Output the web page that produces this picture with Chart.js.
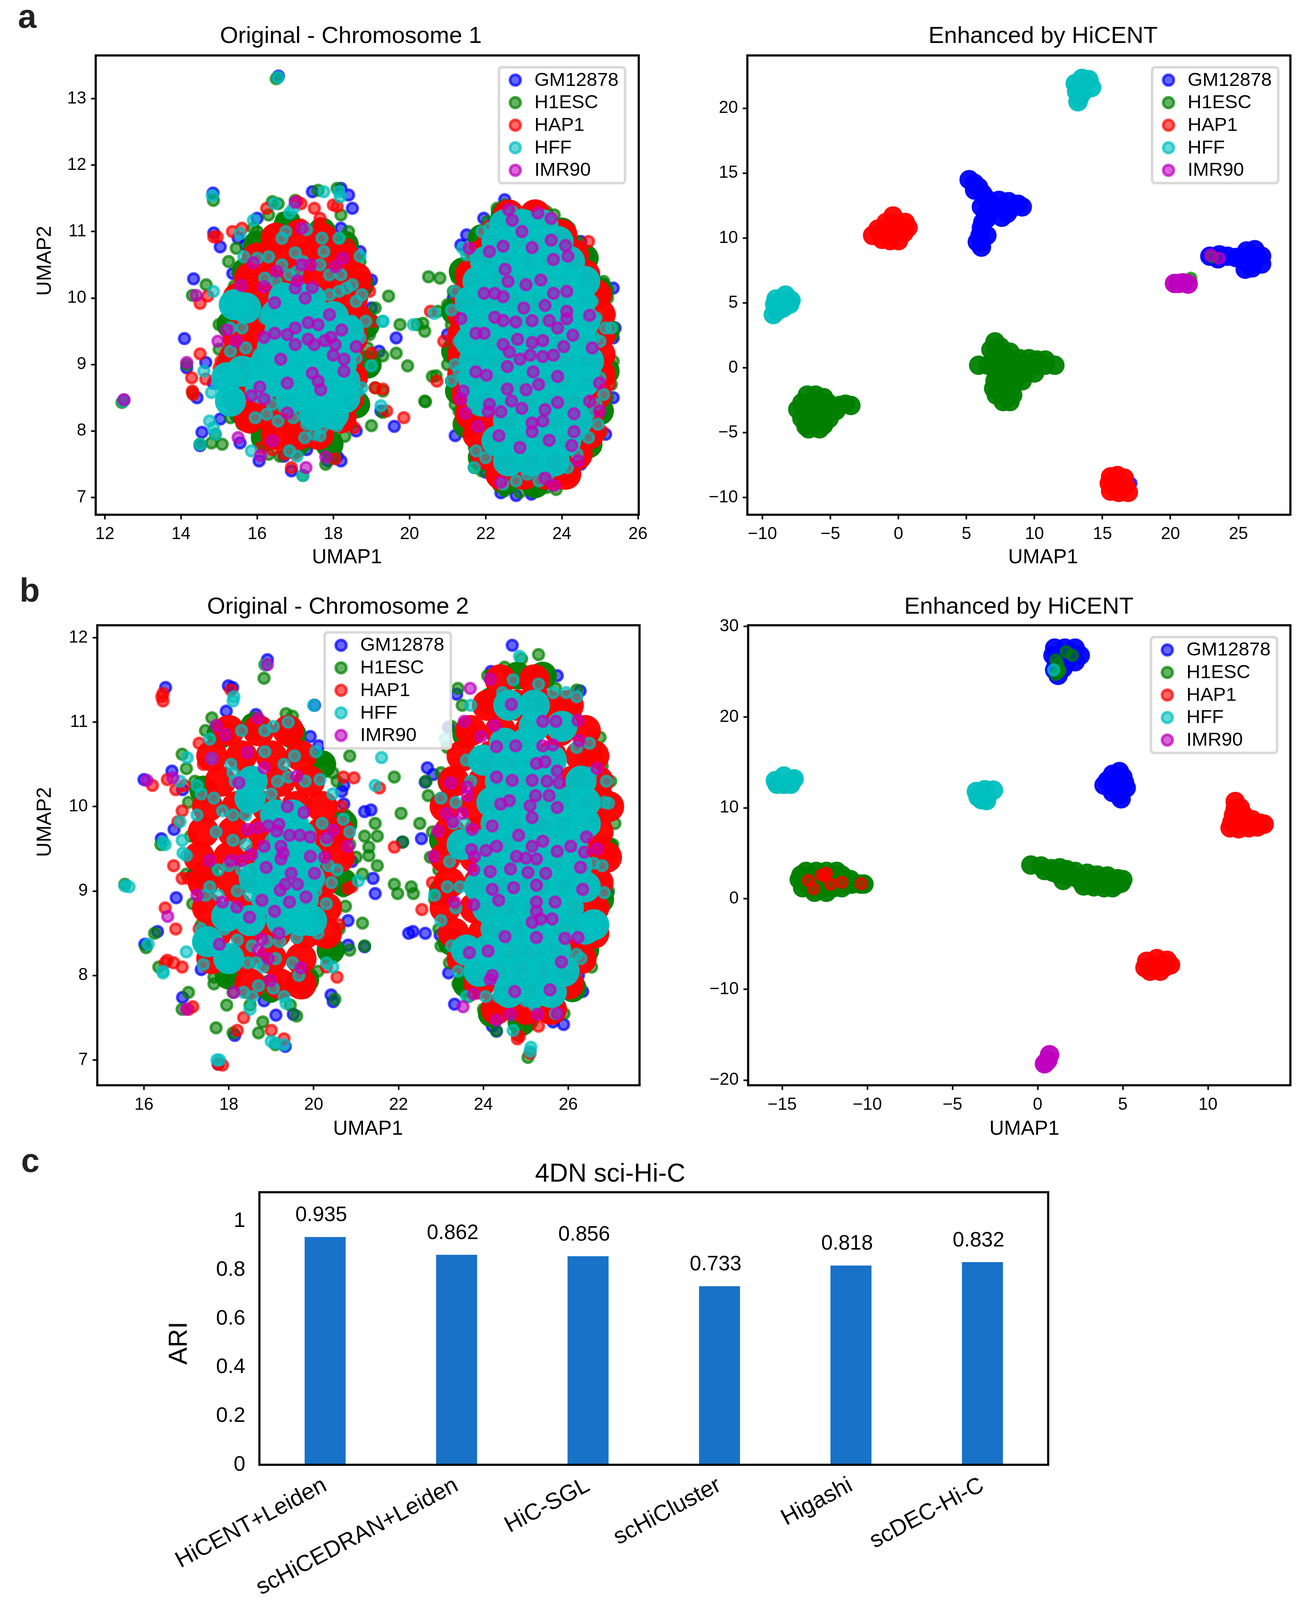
<!DOCTYPE html>
<html><head><meta charset="utf-8">
<script src="https://cdn.jsdelivr.net/npm/chart.js@4"></script>
<style>html,body{margin:0;padding:0;background:#fff;overflow:hidden}body{position:relative;width:3366px}canvas{position:absolute}
.tag{position:absolute;font:bold 85px "Liberation Sans",Arial,sans-serif;color:#222;line-height:1}</style></head><body>
<script>
const seriesNames=["GM12878","H1ESC","HAP1","HFF","IMR90"];
const seriesRGB=["0,0,255","0,128,0","255,0,0","0,191,191","191,0,191"];
const axisLabelX="UMAP1",axisLabelY="UMAP2";

// ---- Panel a, Original - Chromosome 1 ----
const a1Title="Original - Chromosome 1";
const a1TicksX=[12,14,16,18,20,22,24,26],a1TicksY=[7,8,9,10,11,12,13];
const a1GM=[16.56,13.34,12.5,8.46,14.84,11.58,14.86,10.98,15.03,10.77,15.36,10.37,14.33,10.29,14.09,9.39,14.15,8.95,14.65,9.03,14.42,8.5,15.03,8.18,14.55,7.98,14.5,7.78,14.85,8.72,15.55,7.82,16.05,7.55,16.7,7.62,16.9,7.4,17.3,7.72,17.85,7.55,18.2,7.55,18.1,7.62,16,11.2,15.5,10.9,15.7,10.8,16.2,10.93,18.2,11.65,18.4,11.55,18.5,11.35,17.45,11.6,18.2,11.05,18.7,10.7,18.3,10.48,18.9,10.25,19,10.27,19,9.85,19.2,9.2,19.6,8.07,19.25,8.3,19.65,9.4,18.6,8,21.35,10.8,21.15,10,21.5,10.95,22.5,11.48,21.95,11.2,24.2,10.95,24.5,10.85,24.7,10.65,25.1,10.2,25.35,10.15,25.4,9.55,25.35,9.4,25.35,8.5,25.15,7.95,24.5,7.5,24.3,7.4,22,7.38,22.4,7.07,22.8,7.03,23.2,7.05,21.2,7.93,21,9.45];
const a1H1=[14.85,11.47,12.45,8.43,16.5,13.3,14.66,10.2,14.3,10.04,14.15,9,14.3,8.58,14.5,7.8,14.8,7.82,15.08,7.8,14.9,7.95,15,9.6,15,9.23,15.3,9.2,15.4,10.18,15.25,10.55,15.45,10.75,15.9,11.05,16,11,16.3,11.25,16.4,11.45,16.55,11.42,16.65,11.2,16.95,11.2,17,11.47,17.6,11.62,18.1,11.65,18.2,11.25,18.4,11,18.6,10.6,18.7,10.55,18.55,10.3,18.7,10.2,18.8,10.1,19.1,9.85,18.9,9.75,18.95,9.45,19.3,9.13,19.45,10.03,19.75,9.6,20.2,9.6,20.35,9.62,20.4,9.5,19.65,9.17,19.95,8.98,20.5,10.32,20.8,10.3,19.1,8.65,19.3,8.6,19,8.9,18.9,9.25,18.6,8.6,18.65,8.45,18.3,7.92,19,8.08,19.3,8.28,18.45,8.1,15.3,8.2,15.6,8.1,15.85,8.05,16.3,7.65,16.6,7.62,17.2,7.33,17.3,7.8,17.8,7.5,18.05,7.6,16.8,8,17.4,8.15,17.9,8.1,22.3,11.35,22.5,11.4,23.3,11.35,23.6,11.3,23.8,11.25,22.05,11.15,24.1,11,24.2,11.05,21.8,10.9,24.4,10.85,21.55,10.7,24.6,10.7,21.4,10.4,21.25,10.3,24.7,10.4,24.9,10.25,21.15,10.1,25.1,10.25,21,9.9,25.2,10,21.1,9.6,25.25,9.75,21.1,9.3,25.35,9.55,21,9,25.35,9.05,21.1,8.75,25.3,8.7,20.6,8.82,20.7,8.83,20.4,8.45,20.42,8.44,21.2,8.4,25.2,8.5,21.3,8.3,25.1,8.2,21.5,8.05,25,7.95,21.7,7.75,24.8,7.8,21.7,7.45,24.5,7.55,21.9,7.4,24.2,7.4,22.2,7.3,24.1,7.35,22.5,7.1,22.9,7.08,23.3,7.1,23.6,7.15,23.85,7.12,20.75,9.8];
const a1H1Dense=[15.3,9.6,15.3,9,15.6,8.3,16.2,7.9,17,7.8,17.9,7.8,18.6,8.4,18.9,9,18.85,9.6,18.7,10.2,18.3,10.8,17.7,11,16.8,11.1,16,10.8,15.7,10.4,22.5,11.25,23.3,11.25,24,11,24.6,10.6,25,10.1,25.15,9.5,25.15,8.9,25,8.3,24.7,7.8,24.1,7.4,23.3,7.2,22.5,7.25,21.9,7.6,21.5,8.1,21.3,8.6,21.2,9.2,21.2,9.8,21.4,10.4,21.9,10.9];
const a1HAP=[14.86,10.92,14.95,10.92,14.3,8.6,14.32,8.55,14.5,9.16,14.28,8.8,14.65,8.78,14.5,9.92,14.7,10.03,15,8.95,15.05,9.05,15.35,11,15.6,11.05,16.25,11.35,16.45,11,17.15,11.1,17.65,11.2,17.65,11.12,17.05,11.45,17.15,11.42,17.5,11.35,18.1,11.38,18,11.4,18.4,10.8,18.95,10.1,19.05,9.65,19,9.17,19.1,8.65,19.3,8.63,18.55,8.05,16.1,7.75,16.4,7.72,16.7,7.65,17,7.65,16.9,7.45,18.05,7.58,19.4,8.3,19.85,8.2,24.7,10.85,25.05,10.1,20.9,9.35,25.25,8.7,25.05,8,23.4,7.3,23.8,7.2,22.35,7.2,20.55,9.8,20.72,8.75];
const a1HAPDense=[16.5,10.9,17.1,10.95,17.7,10.9,16,10.6,16.6,10.6,17.2,10.6,17.8,10.6,18.3,10.6,15.8,10.3,16.4,10.3,17,10.3,17.6,10.3,18.2,10.3,18.6,10.3,15.5,10,16.1,10,16.7,10,17.3,10,17.9,10,18.5,10,15.7,9.7,16.3,9.7,16.9,9.7,17.5,9.7,18.1,9.7,18.6,9.7,15.5,9.4,16.1,9.4,16.7,9.4,17.3,9.4,17.9,9.4,18.5,9.4,15.4,9.1,16,9.1,16.6,9.1,17.2,9.1,17.8,9.1,18.4,9.1,15.6,8.8,16.2,8.8,16.8,8.8,17.4,8.8,18,8.8,18.5,8.8,15.5,8.5,16.1,8.5,16.7,8.5,17.3,8.5,17.9,8.5,18.4,8.5,15.8,8.2,16.4,8.2,17,8.2,17.6,8.2,18.2,8.2,16.5,7.95,17.1,7.95,17.6,7.95,22.6,11.25,23.3,11.25,22.2,10.95,22.8,10.95,23.4,10.95,24,10.95,21.9,10.65,22.5,10.65,23.1,10.65,23.7,10.65,24.3,10.65,21.6,10.35,22.2,10.35,22.8,10.35,23.4,10.35,24,10.35,24.6,10.35,21.5,10.05,22.1,10.05,22.7,10.05,23.3,10.05,23.9,10.05,24.5,10.05,24.9,10.05,21.4,9.75,22,9.75,22.6,9.75,23.2,9.75,23.8,9.75,24.4,9.75,25,9.75,21.4,9.45,22,9.45,22.6,9.45,23.2,9.45,23.8,9.45,24.4,9.45,25,9.45,21.4,9.15,22,9.15,22.6,9.15,23.2,9.15,23.8,9.15,24.4,9.15,25,9.15,21.4,8.85,22,8.85,22.6,8.85,23.2,8.85,23.8,8.85,24.4,8.85,25,8.85,21.5,8.55,22.1,8.55,22.7,8.55,23.3,8.55,23.9,8.55,24.5,8.55,24.9,8.55,21.6,8.25,22.2,8.25,22.8,8.25,23.4,8.25,24,8.25,24.7,8.25,21.8,7.95,22.4,7.95,23,7.95,23.6,7.95,24.2,7.95,24.7,7.95,22,7.65,22.6,7.65,23.2,7.65,23.8,7.65,24.4,7.65,22.4,7.35,23,7.35,23.6,7.35,24.1,7.35];
const a1HFF=[16.55,13.32,12.48,8.45,14.82,11.54,17.75,11.6,18.15,11.6,18.18,11.52,16.85,11.28,16.95,11.35,16.45,11.42,15.55,10.97,15.9,11.17,16.65,10.9,16.75,11,17.3,11.03,17.7,10.9,18.15,10.9,15.65,10.62,16,10.6,16.3,10.62,16.65,10.5,17,10.68,17.2,10.55,17.75,10.7,18.7,10.63,16.2,10.3,16.5,10.25,16.85,10.35,17.05,10.4,17.65,10.5,17.9,10.35,18.2,10.35,18.35,10.15,18.5,10.2,18.75,10.05,14.85,10.1,15.2,9.93,15.4,9.85,15.65,9.85,15.9,9.83,16.5,10,16.7,10.05,17,9.9,17.25,9.95,17.5,9.85,17.9,10.05,18.15,10.1,18.6,9.95,16.2,9.7,16.6,9.75,16.85,9.7,17.1,9.68,17.35,9.7,17.6,9.65,17.85,9.6,18.15,9.7,18.5,9.65,18.85,9.65,19.3,9.65,16.4,9.55,16.75,9.58,17.05,9.52,15.3,9.55,15.6,9.55,16.9,9.35,16.6,9.35,16.3,9.4,17.15,9.4,17.45,9.45,18,9.5,18.35,9.4,18.7,9.4,15.7,9.25,16.05,9.15,16.4,9.2,16.75,9.2,17.05,9.15,17.3,9.2,17.6,9.2,17.95,9.2,18.3,9.2,18.6,9.1,15.3,9.2,15.9,8.98,16.3,9,16.65,9.05,16.95,9,17.2,9.05,17.5,9,17.8,9,18.1,9,18.45,8.98,19,8.98,14.6,8.9,15.2,8.82,15.5,8.8,15.95,8.8,16.3,8.75,16.6,8.82,16.9,8.85,17.2,8.85,17.5,8.9,17.8,8.85,18.1,8.8,18.4,8.7,18.65,8.6,18.75,8.65,14.8,8.58,15.4,8.45,15.85,8.6,16.25,8.55,16.55,8.6,16.95,8.65,17.25,8.6,17.55,8.6,17.85,8.6,18.15,8.55,18.45,8.5,16.4,8.4,16.7,8.35,17,8.4,17.4,8.3,17.75,8.35,18.05,8.3,19.25,8.38,15.95,8.2,16.25,8.25,16.55,8.15,16.95,8.2,17.3,8.1,17.7,8.05,18.1,8.08,17.5,7.95,17.25,7.9,17.65,7.93,14.75,8.15,14.85,8.05,14.9,7.95,14.5,7.8,15.85,7.7,16.85,7.7,17.05,7.62,17.2,7.33,19.3,9.65,20.1,9.6,20.65,9.77,21.1,9.82,21.2,10.1,21.45,10.05,21.7,10.1,21.3,8.9,21.3,9.35,21.5,9.55,21.2,9,21.45,8.95,21.1,8.75,21.5,8.6,21.4,8.8,21.65,8.95,21.7,9.2,21.75,9.7,21.9,9.95,22.05,10.4,21.5,10.65,21.4,10.75,21.8,10.5,21.85,10.25,21.9,11,22.1,11.05,22.1,10.8,22.3,10.6,22.7,11.3,22.95,11.25,23.2,11.05,21.75,7.7,21.7,7.45,22,7.6,22.45,7.2,22.8,7.25,23.1,7.35,23.4,7.25,23.65,7.35,24.15,7.45,24.4,7.65,24.45,7.95,24.7,8.25,24.75,8.65,24.85,8.9,24.85,9.15,24.85,9.4,24.9,9.7,24.8,9.95,25,9.35,25.15,9.55,25.3,9.55,25,8.8,25.1,8.55,24.9,8.4,24.95,8.1,24.7,7.9];
const a1HFFDense=[16.7,10,17.1,10,17.4,9.98,16.5,9.75,17,9.75,17.5,9.75,18,9.72,16.6,9.5,17.1,9.5,17.6,9.5,18.1,9.5,18.4,9.5,16.4,9.25,16.9,9.25,17.4,9.25,17.9,9.25,18.3,9.25,16.2,9,16.7,9,17.2,9,17.7,9,18.2,9,16.4,8.75,16.9,8.75,17.4,8.75,17.9,8.75,18.3,8.75,16.9,8.5,17.4,8.5,17.9,8.5,18.3,8.5,17.5,8.25,18,8.25,15.4,9.9,15.7,9.85,15.2,8.8,15.6,8.9,16.1,8.65,15.3,8.45,22.5,11.1,23,11.1,23.5,11.1,22.3,10.85,22.8,10.85,23.4,10.85,23.9,10.85,22,10.55,22.6,10.55,23.1,10.55,23.7,10.55,24.2,10.55,21.8,10.25,22.4,10.25,23,10.25,23.6,10.25,24.1,10.25,24.6,10.25,21.6,9.95,22.2,9.95,22.8,9.95,23.4,9.95,24,9.95,24.5,9.95,21.7,9.65,22.3,9.65,22.9,9.65,23.5,9.65,24.1,9.65,24.6,9.65,21.6,9.35,22.2,9.35,22.8,9.35,23.4,9.35,24,9.35,24.5,9.35,21.7,9.05,22.3,9.05,22.9,9.05,23.5,9.05,24.1,9.05,24.7,9.05,21.7,8.75,22.3,8.75,22.9,8.75,23.5,8.75,24.1,8.75,24.6,8.75,21.9,8.45,22.5,8.45,23.1,8.45,23.7,8.45,24.3,8.45,22.6,8.15,23.2,8.15,23.8,8.15,24.4,8.15,22.3,7.85,22.9,7.85,23.5,7.85,24.1,7.85,22.6,7.55,23.2,7.55,23.8,7.55];
const a1IMR=[14.4,10.04,14.97,9.35,14.15,9.03,12.5,8.47,15.5,7.9,16.09,7.63,16.4,7.85,17.28,7.45,17.8,7.61,15.58,10.19,15.9,10.53,16.51,10.4,17.17,11.05,17,11.44,17.17,10.5,17.4,10.5,18.05,10.47,18.25,10.6,16.18,10.17,17.06,10.26,17,10.15,17.45,10.16,17.26,10,16.46,9.93,17.9,9.75,16.18,9.41,16.46,9.47,16.79,9.45,17,9.55,17.34,9.63,17.6,9.6,17.34,9.38,17.5,9.3,17.78,9.36,17.94,9.41,18.22,9.52,18.05,9.3,18.6,9.27,17,9.3,16.62,9.08,18,9.14,18.28,9.08,18.28,8.9,17.45,8.87,17.6,8.75,17.67,8.62,16.79,8.72,15.85,8.53,16.07,8.66,16.18,8.48,16.79,8.27,15.45,9.35,15.2,9.52,22.6,11.33,22.7,11.17,22.95,11,23.37,11.28,23.72,11.2,21.57,10.75,22.1,10.7,22.46,10.78,23.22,10.76,23.72,10.87,24.1,10.79,24.16,10.63,23.78,10.58,22.51,10.43,22.59,10.25,23.06,10.2,23.45,10.27,21.96,10.07,22.24,10.07,22.46,10.02,23.78,10.07,24.13,10.1,23.56,9.89,23,9.85,24.13,9.8,21.35,9.69,22.24,9.71,22.46,9.66,22.79,9.64,23.22,9.66,23.67,9.66,24.13,9.69,24.73,9.74,23.89,9.55,21.74,9.47,21.96,9.47,24.29,9.44,22.46,9.3,22.84,9.38,23.22,9.33,23.5,9.36,24.05,9.27,24.8,9.25,22.62,9.19,22.9,9.08,23.17,9.14,23.5,9.12,23.78,9.14,22.57,8.97,21.74,8.89,22.02,8.84,23.25,8.89,23.89,8.82,23.39,8.7,22.57,8.63,23.06,8.62,24.99,8.72,21.41,8.6,21.35,8.48,22.68,8.45,22.95,8.34,23.56,8.32,23.89,8.43,24.73,8.45,22.1,8.4,22.07,8.29,22.4,8.29,21.47,8.27,24.32,8.26,24.99,8.3,21.8,8.07,23.22,8.12,23.5,8.15,23.22,7.99,22.35,7.93,24.32,7.99,23.67,7.86,24.26,7.78,22.9,7.75,24.43,7.55,22.4,7.23,23.56,7.29,23.8,7.18];

// ---- Panel a, Enhanced by HiCENT ----
const a2Title="Enhanced by HiCENT";
const a2TicksX=[-10,-5,0,5,10,15,20,25],a2TicksY=[-10,-5,0,5,10,15,20];
const a2GM=[5.2,14.5,5.6,14.2,5.9,13.9,5.6,13.7,6.2,13.4,6.5,13,6.9,12.6,6.1,12.4,6.7,12.2,7.4,12.9,7.5,12.3,8.1,12.8,8.2,12.2,8.8,12.6,9.1,12.4,7.6,11.6,8,11.9,6.4,11.8,6.2,11.2,6.5,11.5,6.1,10.8,6,10.2,6.5,10.2,6.1,9.7,5.8,9.7,6.1,9.3,22.9,8.6,23.5,8.4,23.6,8.7,24.2,8.6,24.8,8.5,25.3,8.5,25.6,9,25.6,8.1,26.2,9.1,26.4,8.5,26.7,8,26,7.7,25.5,7.6,26.7,8.6,25.9,8.4];
const a2GMStray=[17.1,-8.9];
const a2H1=[7.1,2,6.8,1.4,7.5,1.6,7,.8,7.7,1,8.2,1.2,8.3,.6,7.5,.4,6.9,.2,5.9,.2,6.6,.2,7.3,.2,8,.2,8.7,.2,9.4,.2,10.1,.2,10.8,.2,11.5,.2,8.9,.7,9.6,.7,10.2,.6,10.8,.6,7.2,-.4,7.9,-.4,8.6,-.4,9.3,-.4,10,-.4,7.1,-1,7.8,-1,8.5,-1,9.1,-1,7,-1.6,7.6,-1.6,8.3,-1.6,7.2,-2.1,7.9,-2.1,8.4,-2.1,7.7,-2.6,8.2,-2.6,-6.7,-2.1,-6.1,-2.1,-5.5,-2.3,-7.1,-2.7,-6.4,-2.7,-5.7,-2.7,-5.2,-2.7,-7.4,-3.2,-6.7,-3.3,-6,-3.3,-5.3,-3.3,-4.7,-3.3,-7.1,-3.9,-6.4,-3.9,-5.7,-3.9,-5.1,-3.9,-6.8,-4.5,-6.2,-4.5,-5.5,-4.4,-6.6,-4.7,-5.8,-4.7,-4.3,-2.9,-3.9,-2.8,-3.5,-2.9,-4.6,-3.3];
const a2H1Stray=[21.5,6.9,23.1,8.55];
const a2HAP=[-.4,11.7,-.9,11.2,-.2,11.1,.5,11.2,.7,10.8,-1.5,10.7,-.9,10.5,-.2,10.4,.4,10.4,-1.9,10.2,-1.2,9.9,-.6,9.8,0,9.8,15.5,-8.9,16.1,-8.3,16.6,-8.5,15.6,-8.4,16.1,-9,16.7,-9.1,15.6,-9.5,16.2,-9.6,16.9,-9.6];
const a2HFF=[13,21.9,13.5,22.3,14,22.2,13.5,21.6,14.2,21.6,13.1,21.3,13.6,21.3,13.3,20.8,13.2,20.5,-8.3,5.6,-7.9,5.2,-8.5,5.1,-9,5.3,-9.1,4.9,-8.5,4.6,-8.9,4.4,-9.2,4.1,-8,4.9];
const a2IMR=[20.3,6.5,20.9,6.55,21.3,6.45,20.6,6.5];
const a2IMRStray=[22.96,8.68,23.58,8.45];

// ---- Panel b, Original - Chromosome 2 ----
const b1Title="Original - Chromosome 2";
const b1TicksX=[16,18,20,22,24,26],b1TicksY=[7,8,9,10,11,12];
const b1GM=[16.51,11.41,18.91,11.74,17.99,11.43,18.09,11.41,17.94,11.13,18.64,11.09,20.02,11.2,19.52,10.85,19.92,10.83,20.12,10.72,20.71,10.25,20.66,10.18,20.71,10.03,16,10.32,16.66,10.42,16.91,10.2,16.71,9.73,16.41,9.62,17.15,9.19,16.76,8.92,21.4,9.15,21.45,8.97,20.81,8.65,21.2,9.94,21.35,9.96,21.2,8.34,20.81,8.36,16.02,8.37,16.32,8.52,16.91,7.74,17.99,7.96,17.35,8.07,18.83,7.7,19.11,7.53,18.14,7.29,19.33,7.16,17.75,6.95,20.41,7.77,20.46,7.69,19.52,7.54,22.09,9.58,22.34,8.52,22.24,8.5,22.63,8.5,22.68,10.46,22.63,10.29,22.82,10.38,22.54,9.62,22.98,8.48,23.18,8.03,23.32,7.66,24.21,7.4,24.31,7.34,24.68,11.91,24.18,11.6,25.74,11.55,26.28,11.37,23.37,11.33,23.18,10.94,25.89,7.42,25.64,7.45,26.34,7.81,26.24,8,26.93,8.97,26.68,10.33,22.98,9.08,20.5,9.6,20.9,9.35,20.3,9.05];
const b1H1=[18.83,11.52,18.85,11.68,15.55,9.08,16.9,10.62,17,10.45,17.05,10.05,16.4,9.55,17,9.2,17.15,8.85,16.25,8.5,16.05,8.33,16.35,8.1,16.9,7.6,17.05,7.8,17.7,7.38,17.65,7.98,17.95,7.65,18.1,7.32,18.7,7.32,18.8,7.45,19.1,7.18,19.6,7.52,19.8,7.8,20.5,7.72,20.6,8.3,21.2,8.35,20.85,8.3,21.15,8.62,20.85,10.6,21.9,10.35,22.06,9.92,21.2,9.65,21.45,9.8,21.5,9.65,21.3,9.52,21.3,9.42,21.5,9.3,21.9,9.08,21.98,8.97,22.3,9.05,22.35,8.97,22.7,10.13,22.65,10.3,22.5,9.8,22.1,9.58,20.7,9,20.75,8.82,21.15,9.2,21,9.4,20.75,9.9,20.55,10.3,20.3,10.55,17.6,11.05,17.45,10.9,18.6,11.05,19.5,11.07,19.35,11.1,20.05,10.55,20.45,10.4,19.6,10.7,19.8,10.6,17.2,10.3,17.1,9.65,17.3,9.1,17.35,8.6,17.55,8.25,17.65,7.9,18.1,7.8,18.5,7.65,19,7.75,19.45,7.65,19.6,7.95,20.1,8.05,20.35,8.2,20.6,8.55,20.75,9.65,20.85,9.55,23.4,11.4,24.1,11.55,24.5,11.65,24.9,11.75,25.3,11.8,25.7,11.4,26.2,11.38,26.4,11,26.55,10.85,26.75,10.82,26.8,10.48,27,10.3,27.05,10.05,27.1,9.8,27.05,9.55,27,9.4,26.85,9.15,26.95,9,26.75,8.6,26.55,8.4,26.55,8.1,26.25,7.85,25.9,7.55,25.65,7.5,25.15,7.45,25.1,7.42,25.05,7.03,24.8,7.3,24.3,7.35,24,7.6,23.65,7.75,23.4,7.9,23.2,8.15,23,8.35,22.95,8.55,22.85,8.9,22.95,9.25,22.75,9.4,22.8,9.7,22.9,10.05,23,10.4,23.15,10.7,23.25,10.95,23.5,11.2];
const b1H1Dense=[17.4,10.2,17.45,9.2,17.5,8.4,18,8,19,7.85,19.8,7.95,20.4,8.3,20.7,9.1,20.7,9.8,20.2,10.5,19.5,10.85,18.6,10.95,17.8,10.85,24.8,11.55,25.4,11.55,24.2,11.25,26,11.15,23.6,10.85,26.5,10.65,23.25,10.3,26.75,10.1,23.05,9.6,26.85,9.5,23.05,9,26.75,8.9,23.25,8.4,26.4,8.3,23.6,7.9,26.1,7.85,24.2,7.55,25.6,7.6,24.9,7.45];
const b1HAP=[16.45,11.34,16.42,11.3,16.45,11.25,18.05,11.38,18,10.93,16.2,10.25,16.55,10.32,16.75,10.2,16.95,10.25,16.9,9.95,16.8,9.82,16.7,9.3,17.05,9.15,16.9,9.15,16.5,8.8,16.75,8.55,16.5,8.15,16.55,8.18,16.7,8.15,16.9,8.1,17.05,7.6,17.15,7.63,17.75,6.95,17.85,6.94,18.35,7.5,18.2,7.35,19,7.35,19.3,7.25,20.6,8.6,20.55,7.98,20.3,8.1,20.7,10.35,20.95,10.34,20.65,10,20.8,9.4,20.8,9.03,20.9,9.05,21.55,10.22,21.9,9.52,22.55,8.78,22.8,9.1,17.35,8.8,17.3,8.55,17.4,10.5,17.3,10.75,24.85,7.28,24.8,7.25,25.1,7.08,25.3,7.4,27.05,10.08,26.95,10.1,26.95,9.4];
const b1HAPDense=[18,10.9,18.7,10.9,19.4,10.9,17.6,10.6,18.3,10.6,19,10.6,19.7,10.6,17.8,10.3,18.5,10.3,19.2,10.3,19.9,10.3,17.5,10,18.2,10,18.9,10,19.6,10,20.2,10,17.4,9.7,18.1,9.7,18.8,9.7,19.5,9.7,20.2,9.7,20.6,9.7,17.3,9.4,18,9.4,18.7,9.4,19.4,9.4,20.1,9.4,20.6,9.4,17.4,9.1,18.1,9.1,18.8,9.1,19.5,9.1,20.2,9.1,17.5,8.8,18.2,8.8,18.9,8.8,19.6,8.8,20.3,8.8,17.7,8.5,18.4,8.5,19.1,8.5,19.8,8.5,20.3,8.5,17.6,8.2,18.3,8.2,19,8.2,19.7,8.2,18.5,7.9,19.2,7.9,19.7,7.9,24.4,11.5,25.2,11.5,24.1,11.2,24.8,11.2,25.5,11.2,26,11.2,23.7,10.9,24.4,10.9,25.1,10.9,25.8,10.9,26.4,10.9,23.5,10.6,24.2,10.6,24.9,10.6,25.6,10.6,26.3,10.6,26.6,10.6,23.3,10.3,24,10.3,24.7,10.3,25.4,10.3,26.1,10.3,26.7,10.3,23.1,10,23.8,10,24.5,10,25.2,10,25.9,10,26.6,10,26.95,10,23.2,9.7,23.9,9.7,24.6,9.7,25.3,9.7,26,9.7,26.7,9.7,23.1,9.4,23.8,9.4,24.5,9.4,25.2,9.4,25.9,9.4,26.6,9.4,26.9,9.4,23.2,9.1,23.9,9.1,24.6,9.1,25.3,9.1,26,9.1,26.7,9.1,23.1,8.8,23.8,8.8,24.5,8.8,25.2,8.8,25.9,8.8,26.6,8.8,23.3,8.5,24,8.5,24.7,8.5,25.4,8.5,26.1,8.5,26.6,8.5,23.5,8.2,24.2,8.2,24.9,8.2,25.6,8.2,26.3,8.2,23.9,7.9,24.6,7.9,25.3,7.9,26,7.9,24.3,7.6,25,7.6,25.6,7.6];
const b1HFF=[15.55,9.06,15.65,9.05,18.88,11.68,18.1,11.25,18.12,11.3,17.72,7,17.78,7,16.45,8.03,16.45,8.05,17,8.28,19,7.22,19.1,7.2,19.3,7.18,20.42,9.1,21.05,9.12,21.6,10.58,21.45,10.25,20.05,10.65,20,11.2,16.5,9.55,16.45,9.58,17,9.42,16.85,10.3,16.1,8.37,17.02,10.58,16.85,9.82,16.9,9.6,16.92,9.45,17.25,10.25,17.35,10.15,17.25,9.9,17.55,10.8,18.3,10.9,18.15,10.3,17.6,10.57,18.05,10.5,18.1,10.4,18.85,10.9,18.85,10.65,19.05,10.95,19.4,11,19.55,10.6,19.3,10.5,18.6,10.35,18.5,10.2,18.6,10.05,19,10.15,19.15,10.3,19.4,10.35,19.8,10.3,20.15,10.32,20.45,10.15,17.65,10.1,17.85,9.95,18.1,9.9,18.4,9.9,19.05,9.85,19.25,9.9,19.5,9.9,19.75,9.8,20.2,9.8,20.7,9.85,20.85,9.7,17.7,9.7,18.1,9.6,18.4,9.55,19,9.6,19.25,9.6,19.55,9.5,19.9,9.55,20.3,9.6,18,9.3,18.3,9.25,18.75,9.35,19.1,9.3,19.35,9.35,19.65,9.35,20,9.3,20.35,9.3,20.55,9.25,17.55,9.05,17.75,9.25,17.45,8.95,17.75,8.95,18.2,9,18.5,8.95,18.85,9.05,19.1,9,19.4,9,19.7,8.95,20.05,9,20.3,8.85,17.9,8.72,18.25,8.7,18.55,8.6,18.85,8.7,19.2,8.75,19.5,8.72,19.75,8.68,20,8.6,20.1,8.5,17.9,8.55,18.2,8.42,18.55,8.35,18.9,8.4,19.2,8.4,19.6,8.45,17.35,8.55,17.45,8.4,17.7,8.3,17.85,8.15,18.05,8.15,18.45,8.15,18.8,8.1,19.1,8.2,19.5,8.15,19.65,8,20.3,8.15,20.45,8.1,17.4,8.13,18.35,7.8,18.55,7.75,18.5,7.6,19.05,7.85,19.3,7.75,19.35,7.67,18.7,7.88,18.65,8.15,23.1,10.8,23.7,11.2,24.45,11.35,24.7,11.5,24.85,11.78,25.3,11.45,25.65,11.35,25.95,11.35,26.2,11.3,26.2,10.7,26.5,10.75,23.6,10.55,23.9,10.65,26.55,10.4,26.9,10.3,23,10.1,23.35,10.05,23.7,10.3,26.85,10.05,26.95,10.04,23.3,9.8,23.55,9.8,26.6,9.75,23.2,9.35,26.6,9.33,26.8,9.3,23.15,9.05,23.45,9.05,26.55,9.05,26.85,8.98,22.85,8.95,23,8.65,23.35,8.8,26.5,8.65,26.7,8.62,23.25,8.35,23.5,8.3,26.2,8.25,26.3,8.2,23.4,8.05,23.7,8.05,23.6,7.75,24.05,7.75,24.35,7.75,25,7.7,25.2,7.65,25.5,7.7,25.7,7.55,24.7,7.35,25.12,7.15,25.1,7.1];
const b1HFFDense=[18.55,10.3,18.5,10.1,19.1,9.9,19.5,9.9,19.3,9.65,19.7,9.65,19,9.4,19.5,9.4,19.85,9.4,18.6,9.15,19,9.15,19.5,9.15,19.9,9.15,18.9,8.9,19.3,8.9,19.75,8.9,19.25,8.65,19.7,8.65,19.95,8.65,17.5,8.4,18,8.2,17.95,8.7,18.5,8.65,24.6,11.2,25.2,11.2,25.2,10.95,25.85,10.95,24.5,10.75,25,10.75,24,10.55,24.6,10.55,25.1,10.55,25.6,10.55,24.4,10.3,25,10.3,25.5,10.3,26.3,10.3,24.2,10.05,24.8,10.05,25.3,10.05,25.9,10.05,26.4,10.05,24.3,9.8,24.8,9.8,25.4,9.8,26,9.8,26.4,9.8,23.5,9.55,24,9.55,24.6,9.55,25.1,9.55,25.6,9.55,26.1,9.55,24.2,9.3,24.7,9.3,25.2,9.3,25.7,9.3,26.2,9.3,23.9,9.05,24.4,9.05,24.9,9.05,25.4,9.05,25.9,9.05,26.4,9.05,24.1,8.8,24.6,8.8,25.1,8.8,25.6,8.8,26,8.8,24.3,8.55,24.8,8.55,25.3,8.55,25.8,8.55,26.4,8.55,26.6,8.6,23.6,8.3,24.1,8.3,24.6,8.3,25.2,8.3,25.7,8.3,23.9,8.05,24.4,8.05,24.9,8.05,25.4,8.05,25.9,8.05,24.6,7.8,25.2,7.8,25.6,7.8];
const b1IMR=[16.07,10.31,16.68,10.34,16.56,8.7,18.91,11.68,17,7.6,17.7,10.96,17.92,10.85,18.69,11.05,18.44,10.64,17.6,10.57,18.83,10.46,18.24,10.28,19.6,10.36,19.38,10,19.77,9.93,18.44,9.73,18.69,9.75,18.93,9.77,19.18,9.79,19.13,9.71,19.43,9.66,19.67,9.66,19.92,9.64,20.46,9.72,20.31,9.63,18.83,9.53,19.23,9.53,19.28,9.45,19.23,9.38,19.92,9.41,20.26,9.4,20.81,9.53,17.55,9.36,18.04,9.36,18.29,9.36,18.54,9.43,18.88,9.28,19.47,9.21,20.02,9.21,19.33,9.08,19.62,9.08,19.21,9.01,19.82,8.93,18.78,8.89,19.43,8.87,17.85,8.87,18.19,8.81,19.08,8.76,17.25,8.95,18.49,8.69,18.78,8.43,19.18,8.5,17.78,8.37,18.7,8.3,18.93,8.2,19.7,8.09,18.98,7.94,18.12,7.8,23.69,11.4,24.16,11.51,23.55,11.01,23.95,10.83,24.26,10.96,24.66,11.21,25.4,11.01,25.71,11.01,26.23,11.02,26.26,10.78,24.31,10.71,24.76,10.72,25.4,10.72,25.64,10.73,25.45,10.53,25.25,10.51,25.74,10.42,26.68,10.45,23.23,10.28,23.62,10.23,23.62,10.13,24.31,10.35,24.68,10.31,25.15,10.31,25.5,10.3,25.79,10.28,24.41,10.03,24.61,10.07,25.1,10.01,25.23,10.13,25.55,10.13,25.74,9.99,23.13,9.92,23.28,9.82,23.5,9.92,25.15,9.87,22.93,9.71,24.21,9.77,23.74,9.73,24.83,9.66,25.4,9.59,25.15,9.53,26.43,9.64,22.83,9.41,23.72,9.49,24.06,9.48,24.31,9.53,25.74,9.47,26.06,9.53,26.38,9.46,26.68,9.5,23.79,9.41,23.77,9.25,24.16,9.23,24.78,9.41,25,9.39,25.25,9.38,24.64,9.26,25.05,9.22,25.47,9.21,26.29,9.28,24.21,9.02,24.71,9.04,25.25,9.07,26.34,9.02,23.32,8.87,23.77,8.84,24.36,8.89,25.25,8.87,25.25,8.76,25.69,8.87,25.15,8.63,25.35,8.67,25.62,8.67,25.25,8.45,24.51,8.46,25.92,8.44,26.23,8.45,23.67,8.27,24.11,8.29,25.84,8.16,24.21,8,24.16,7.95,25.57,7.83,23.77,7.78,24.74,7.81,23.52,7.63,24.31,7.47,24.64,7.54,25.28,7.54,25.74,7.55];

// ---- Panel b, Enhanced by HiCENT ----
const b2Title="Enhanced by HiCENT";
const b2TicksX=[-15,-10,-5,0,5,10],b2TicksY=[-20,-10,0,10,20,30];
const b2GM=[1,27.6,1.6,27.6,2.2,27.6,.9,26.8,1.5,26.8,2.1,26.8,2.5,26.8,1.1,26.1,1.7,26.1,2.2,26.1,1,25.2,1.5,25.4,1.2,24.6,4.8,14,4.4,13.7,5,13.4,4.1,13,4.6,13,5.1,12.8,3.9,12.5,4.4,12.3,4.9,12.1,5.2,12.2,4.4,11.7,4.8,11.4,4.9,11];
const b2H1=[-13.6,3,-13,3,-12.4,3,-11.8,3,-14,2.1,-13.4,2.1,-12.8,2.1,-12.2,2.1,-11.6,2.1,-11,2.1,-13.9,2.6,-13.3,2.6,-12.7,2.6,-12.1,2.6,-11.5,2.6,-13.5,1.6,-12.9,1.6,-12.3,1.6,-11.7,1.6,-11.2,1.6,-13.8,1.2,-13.2,1.2,-12.6,1.2,-12,1.2,-11.5,1.2,-13.1,.7,-12.4,.7,-10.9,1.6,-10.4,1.6,-10.2,1.6,-.4,3.7,.2,3.6,.8,3.3,1.3,3.4,1.7,3.2,1.2,2.7,1.8,2.5,2.2,3,2.4,2.2,2.9,2.8,3,2,3.5,2.6,3.5,1.7,4.1,2.5,4.1,1.6,4.7,2.2,4.6,1.5,5,2.1,.9,2.9,1.5,2,2.7,1.4,3.3,1.3,3.9,1.2,4.4,1.2,.4,3.1,1,3,2.1,2.4,2.6,1.8,3.1,1.5,3.7,2.1,4.3,2,4.9,1.7];
const b2H1Stray=[1.67,27.2,2.04,26.8,1.06,26.3,1.18,25.9,1.3,25.1,1.06,24.7,1.3,25.2,1.22,24.9];
const b2HAP=[11.6,10.7,11.9,10,11.6,9.9,11.5,9.2,12.1,9.2,11.4,8.4,12,8.4,12.6,8.7,13.1,8.3,13.3,8.2,11.3,7.8,11.8,7.7,12.4,7.8,12.9,7.9,6.4,-6.9,7,-6.6,7.6,-6.8,6.3,-7.6,6.9,-7.4,7.5,-7.5,7.8,-7.3,6.6,-8,7.2,-8];
const b2HAPStray=[-13.46,2,-13.16,1.1,-12.7,2.6,-12.4,2.8,-12.15,1.6,-12.5,2.5,-11.5,1.8,-10.36,1.65];
const b2HFF=[-15.4,13,-14.9,13.5,-14.4,13,-14.9,12.6,-15.3,12.6,-14.3,13.2,-14.5,12.6,-3.6,11.8,-3.1,12,-2.6,11.95,-3.5,11.2,-3,11.3,-3,10.8,-3.3,10.9];
const b2HFFStray=[.94,25.2];
const b2IMR=[.7,-17.2,.6,-17.8,.4,-18.2,.5,-18];

// ---- Panel c ----
const cTitle="4DN sci-Hi-C",cAxisY="ARI";
const cCategories=["HiCENT+Leiden","scHiCEDRAN+Leiden","HiC-SGL","scHiCluster","Higashi","scDEC-Hi-C"];
const cValues=[0.935,0.862,0.856,0.733,0.818,0.832];
const cTicksY=[0,0.2,0.4,0.6,0.8,1];

const FONT='"Liberation Sans",Arial,sans-serif';
// The window can be shorter than the 4473px figure: fit the figure's vertical layout to what is visible.
const K=Math.min(1,(window.innerHeight||4473)/4473);
const Y=v=>v*K;
document.body.style.height=Y(4473)+'px';
[["a",46,-1],["b",50,1603],["c",54,3197]].forEach(t=>{const d=document.createElement('div');d.className='tag';d.textContent=t[0];d.style.left=t[1]+'px';d.style.top=Y(t[2])+'px';document.body.appendChild(d)});

const pairs=f=>{const o=[];for(let i=0;i+1<f.length;i+=2)o.push({x:f[i],y:f[i+1]});return o};
const rgba=(c,a)=>`rgba(${c},${a})`;

const framePlugin={id:'frame',afterDatasetsDraw(c){const a=c.chartArea,x=c.ctx;x.save();x.strokeStyle='#000';x.lineWidth=5.5;x.strokeRect(a.left,a.top,a.right-a.left,a.bottom-a.top);x.restore()}};
const textPlugin={id:'placed',afterDraw(c,_,o){const x=c.ctx;(o.items||[]).forEach(t=>{x.save();x.translate(t.x,t.y);if(t.rot)x.rotate(t.rot);x.font=`${t.size}px ${FONT}`;x.fillStyle='#000';x.textAlign='center';x.textBaseline='middle';x.fillText(t.text,0,0);x.restore()})}};
const legendPlugin={id:'boxLegend',afterDatasetsDraw(c,_,o){if(o.left===undefined)return;const x=c.ctx,w=323,h=324*K;x.save();
 x.beginPath();x.roundRect(o.left,o.top,w,h,8);x.fillStyle='rgba(255,255,255,.8)';x.fill();x.lineWidth=6.5;x.strokeStyle='#d9d9d9';x.stroke();
 seriesNames.forEach((n,i)=>{const cy=o.top+(36+i*63)*K;x.beginPath();x.arc(o.left+42,cy,13.5,0,7);x.fillStyle=rgba(seriesRGB[i],.6);x.fill();x.lineWidth=7;x.strokeStyle=rgba(seriesRGB[i],.7);x.stroke();
  x.fillStyle='#000';x.font=`49px ${FONT}`;x.textAlign='left';x.textBaseline='middle';x.fillText(n,o.left+91,cy+1)});x.restore()}};
const valuePlugin={id:'values',afterDatasetsDraw(c){const m=c.getDatasetMeta(0),x=c.ctx;x.save();x.font=`53px ${FONT}`;x.fillStyle='#000';x.textAlign='center';x.textBaseline='middle';m.data.forEach((b,i)=>x.fillText(cValues[i].toFixed(3),b.x-10,b.y-60*K));x.restore()}};

function makeCanvas(r){const k=document.createElement('canvas');k.width=r.w;k.height=r.h;k.style.left=r.x+'px';k.style.top=r.y+'px';k.style.width=r.w+'px';k.style.height=r.h+'px';document.body.appendChild(k);return k}

const LOOK={plain:{r:13.5,b:7,f:.6,s:.7},solid:{r:23,b:4,f:.95,s:.9},dense:{r:40,b:0,f:.97,s:0},rim:{r:36,b:0,f:.97,s:0}};
function scatter(r0,ax0,lim,ticksX,ticksY,layers,legend,texts){
 const top=Math.round(Y(r0.y)),r={x:r0.x,y:top,w:r0.w,h:Math.round(Y(r0.y+r0.h))-top};
 const ax={l:ax0.l,r:ax0.r,t:Y(ax0.t),b:Y(ax0.b)};
 const k=makeCanvas(r);const fmt=v=>String(v).replace('-','\u2212');
 const scale=(min,max,vals,isY)=>({type:'linear',min,max,
   afterBuildTicks:s=>{s.ticks=vals.map(v=>({value:v}))},
   afterFit:s=>{if(isY)s.width=ax.l-r.x;else s.height=r.y+r.h-ax.b},
   border:{display:false},
   grid:{drawOnChartArea:false,drawTicks:true,tickLength:12,tickWidth:4,tickColor:'#000',color:'#000'},
   ticks:{autoSkip:false,maxRotation:0,minRotation:0,color:'#000',padding:12,font:{family:FONT,size:44},callback:fmt}});
 new Chart(k,{type:'scatter',data:{datasets:layers.map((l,i)=>{const q=LOOK[l.look];return{label:l.name,order:layers.length-i,data:pairs(l.pts),pointRadius:q.r,pointHoverRadius:q.r,borderWidth:q.b,backgroundColor:rgba(l.rgb,q.f),borderColor:rgba(l.rgb,q.s)}})},
  options:{responsive:false,animation:false,devicePixelRatio:1,events:[],
   layout:{padding:{left:0,top:ax.t-r.y,right:r.x+r.w-ax.r,bottom:0}},
   plugins:{legend:{display:false},tooltip:{enabled:false},title:{display:false},
    boxLegend:{left:legend.left-r.x,top:Y(legend.top)-r.y},
    placed:{items:texts.map(t=>Object.assign({},t,{x:t.x-r.x,y:Y(t.y)-r.y}))}},
   scales:{x:scale(lim[0],lim[1],ticksX,false),y:scale(lim[2],lim[3],ticksY,true)}},
  plugins:[framePlugin,legendPlugin,textPlugin]});
}
const L=(i,pts,look)=>({name:seriesNames[i],rgb:seriesRGB[i],pts,look:look||'plain'});

scatter({x:0,y:0,w:1683,h:1600},{l:245,r:1635,t:155,b:1439},[11.76,26.02,6.74,13.65],a1TicksX,a1TicksY,
 [L(0,a1GM),L(1,a1H1),L(1,a1H1Dense,'rim'),L(2,a1HAPDense,'dense'),L(2,a1HAP),L(3,a1HFFDense,'dense'),L(3,a1HFF),L(4,a1IMR)],{left:1277,top:188},
 [{text:a1Title,x:898,y:102,size:60},{text:axisLabelX,x:888,y:1559,size:52},{text:axisLabelY,x:116,y:729,size:52,rot:-Math.PI/2}]);
scatter({x:1683,y:0,w:1683,h:1600},{l:1913,r:3303,t:155,b:1439},[-11.11,28.82,-11.32,24.07],a2TicksX,a2TicksY,
 [L(0,a2GMStray),L(0,a2GM,'solid'),L(1,a2H1,'solid'),L(1,a2H1Stray),L(2,a2HAP,'solid'),L(3,a2HFF,'solid'),L(4,a2IMR,'solid'),L(4,a2IMRStray)],{left:2949,top:188},
 [{text:a2Title,x:2670,y:102,size:60},{text:axisLabelX,x:2670,y:1559,size:52}]);
scatter({x:0,y:1600,w:1683,h:1580},{l:249,r:1637,t:1748,b:3034},[14.9,27.68,6.7,12.147],b1TicksX,b1TicksY,
 [L(0,b1GM),L(1,b1H1),L(1,b1H1Dense,'rim'),L(2,b1HAPDense,'dense'),L(2,b1HAP),L(3,b1HFFDense,'dense'),L(3,b1HFF),L(4,b1IMR)],{left:831,top:1768},
 [{text:b1Title,x:865,y:1697,size:60},{text:axisLabelX,x:942,y:3157,size:52},{text:axisLabelY,x:116,y:2298,size:52,rot:-Math.PI/2}]);
scatter({x:1683,y:1600,w:1683,h:1580},{l:1915,r:3303,t:1748,b:3034},[-17,14.84,-20.56,30.12],b2TicksX,b2TicksY,
 [L(0,b2GM,'solid'),L(1,b2H1,'solid'),L(1,b2H1Stray),L(2,b2HAP,'solid'),L(2,b2HAPStray),L(3,b2HFF,'solid'),L(3,b2HFFStray),L(4,b2IMR,'solid')],{left:2946,top:1781},
 [{text:b2Title,x:2608,y:1697,size:60},{text:axisLabelX,x:2622,y:3157,size:52}]);

(function(){const top=Math.round(Y(3180)),r={x:0,y:top,w:3366,h:Math.round(Y(4473))-top},ax={l:664,r:2683,t:Y(3333),b:Y(4095)};const k=makeCanvas(r);
 new Chart(k,{type:'bar',data:{labels:cCategories,datasets:[{label:'ARI',data:cValues,backgroundColor:'#1872C8',barPercentage:.312,categoryPercentage:1}]},
 options:{responsive:false,animation:false,devicePixelRatio:1,events:[],
  layout:{padding:{left:0,top:ax.t-r.y,right:r.x+r.w-ax.r,bottom:0}},
  plugins:{legend:{display:false},tooltip:{enabled:false},placed:{items:[{text:cTitle,x:1562,y:Y(3283)-r.y,size:66},{text:cAxisY,x:460,y:Y(3755)-r.y,size:66,rot:-Math.PI/2}]}},
  scales:{x:{type:'category',afterFit:s=>{s.height=r.y+r.h-ax.b},border:{display:false},grid:{display:false,drawTicks:false},
    ticks:{autoSkip:false,minRotation:28,maxRotation:28,color:'#000',padding:18,font:{family:FONT,size:59}}},
   y:{type:'linear',min:0,max:1.119,afterBuildTicks:s=>{s.ticks=cTicksY.map(v=>({value:v}))},afterFit:s=>{s.width=ax.l-r.x},border:{display:false},grid:{display:false,drawTicks:false},
    ticks:{autoSkip:false,color:'#000',padding:36,font:{family:FONT,size:54},callback:v=>String(v)}}}},
 plugins:[framePlugin,valuePlugin,textPlugin]});
})();
</script></body></html>
